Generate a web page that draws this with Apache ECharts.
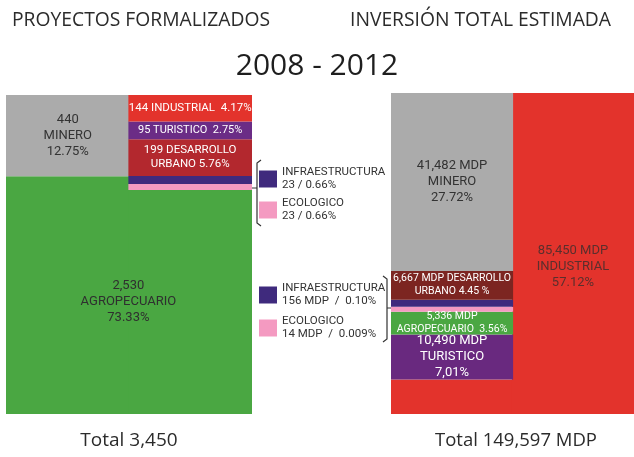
<!DOCTYPE html>
<html>
<head>
<meta charset="utf-8">
<script src="https://cdn.jsdelivr.net/npm/echarts@6/dist/echarts.min.js"></script>
<style>
html, body { margin: 0; padding: 0; background: #fff; }
#main { width: 634px; height: 457px; }
</style>
</head>
<body>
<div id="main"></div>
<script>
var FONT = "Roboto, 'Open Sans', sans-serif";
var FONT_TIT = "'Open Sans', sans-serif";

// datos 2008 - 2012
var sectores = ['INDUSTRIAL', 'TURISTICO', 'DESARROLLO URBANO', 'INFRAESTRUCTURA', 'ECOLOGICO', 'AGROPECUARIO', 'MINERO'];
var proyectos = [144, 95, 199, 23, 23, 2530, 440];
var proyectosPct = ['4.17%', '2.75%', '5.76%', '0.66%', '0.66%', '73.33%', '12.75%'];
var inversion = [85450, 10490, 6667, 156, 14, 5336, 41482];
var inversionPct = ['57.12%', '7,01%', '4.45 %', '0.10%', '0.009%', '3.56%', '27.72%'];
var titulos = ['PROYECTOS FORMALIZADOS', 'INVERSIÓN TOTAL ESTIMADA'];
var totales = ['Total 3,450', 'Total 149,597 MDP'];
var periodo = '2008 - 2012';

var grids = [
    {left: 6, top: 95, width: 246, height: 319},
    {left: 391, top: 93, width: 244, height: 321}
];

var paneles = [
    {
        valores: proyectos, pct: proyectosPct, sufijo: 'proyectos',
        colA: ['MINERO'],
        colB: ['INDUSTRIAL', 'TURISTICO', 'DESARROLLO URBANO', 'INFRAESTRUCTURA', 'ECOLOGICO'],
        span: 'AGROPECUARIO', spanLabelCol: 1, spanLabelPos: ['0%', '50%'],
        minPx: {INFRAESTRUCTURA: 8, ECOLOGICO: 6},
        colores: {
            INDUSTRIAL: '#e3332c', TURISTICO: '#6b2c86', 'DESARROLLO URBANO': '#b3282e',
            INFRAESTRUCTURA: '#3f2a7d', ECOLOGICO: '#f49ac1', AGROPECUARIO: '#4aa742', MINERO: '#ababab'
        },
        etiquetas: {
            INDUSTRIAL: ['{v} INDUSTRIAL  {p}', '#fff', 11.5],
            TURISTICO: ['{v} TURISTICO  {p}', '#fff', 11],
            'DESARROLLO URBANO': ['{v} DESARROLLO\nURBANO {p}', '#fff', 11.5],
            AGROPECUARIO: ['{v}\nAGROPECUARIO\n{p}', '#2f2f2f', 13],
            MINERO: ['{v}\nMINERO\n{p}', '#333', 13]
        },
        leyenda: {top: 166, gap: 5, fmt: '{n}\n{v} / {p}'}
    },
    {
        valores: inversion, pct: inversionPct, sufijo: 'inversión',
        colA: ['MINERO', 'DESARROLLO URBANO', 'INFRAESTRUCTURA', 'ECOLOGICO', 'AGROPECUARIO', 'TURISTICO'],
        colB: [],
        span: 'INDUSTRIAL', spanLabelCol: 1, spanLabelPos: ['50%', '54%'],
        minPx: {INFRAESTRUCTURA: 7, ECOLOGICO: 5},
        colores: {
            INDUSTRIAL: '#e3332c', TURISTICO: '#69297f', 'DESARROLLO URBANO': '#7c2521',
            INFRAESTRUCTURA: '#3f2a7d', ECOLOGICO: '#f49ac1', AGROPECUARIO: '#4aa742', MINERO: '#ababab'
        },
        etiquetas: {
            INDUSTRIAL: ['{v} MDP\nINDUSTRIAL\n{p}', '#5b2f2d', 13],
            TURISTICO: ['{v} MDP\nTURISTICO\n{p}', '#fff', 13],
            'DESARROLLO URBANO': ['{v} MDP DESARROLLO\nURBANO {p}', '#fff', 10.5],
            AGROPECUARIO: ['{v} MDP\nAGROPECUARIO  {p}', '#fff', 10.5],
            MINERO: ['{v} MDP\nMINERO\n{p}', '#333', 13]
        },
        leyenda: {top: 282, gap: 7, fmt: '{n}\n{v} MDP  /  {p}'}
    }
];

function fmtNum(n) {
    return n.toLocaleString('en-US');
}

function construir(pi) {
    var p = paneles[pi];
    var g = grids[pi];
    var total = p.valores.reduce(function (a, b) { return a + b; }, 0);
    var col = total / 2;
    // strips too thin to see get a minimum height in pixels
    var alto = function (s) {
        var v = p.valores[sectores.indexOf(s)];
        return Math.max(v, (p.minPx[s] || 0) / g.height * col);
    };
    var suma = function (lista) {
        return lista.reduce(function (a, s) { return a + alto(s); }, 0);
    };
    var texto = function (s) {
        var i = sectores.indexOf(s);
        return p.etiquetas[s][0].replace('{v}', fmtNum(p.valores[i])).replace('{p}', p.pct[i]);
    };
    function serie(s, data) {
        var e = p.etiquetas[s];
        return {
            type: 'bar',
            name: s + ' - ' + p.sufijo,
            stack: 'panel' + pi,
            xAxisIndex: pi,
            yAxisIndex: pi,
            barWidth: '101%', // slight overlap so the two halves join without a seam
            itemStyle: {color: p.colores[s]},
            label: e ? {
                show: true,
                position: 'inside',
                formatter: function () { return texto(s); },
                color: e[1],
                fontSize: e[2],
                lineHeight: Math.round(e[2] * 1.2),
                fontFamily: FONT
            } : {show: false},
            emphasis: {disabled: true},
            data: data
        };
    }
    var out = [];
    var spanData = [col - suma(p.colA), col - suma(p.colB)].map(function (v, i) {
        return {value: v, label: {show: i === p.spanLabelCol}};
    });
    var sp = serie(p.span, spanData);
    sp.label.position = p.spanLabelPos;
    sp.label.align = 'center';
    sp.label.verticalAlign = 'middle';
    out.push(sp);
    p.colA.slice().reverse().forEach(function (s) { out.push(serie(s, [alto(s), '-'])); });
    p.colB.slice().reverse().forEach(function (s) { out.push(serie(s, ['-', alto(s)])); });
    return {series: out, max: col};
}

var armados = [construir(0), construir(1)];

var chart = echarts.init(document.getElementById('main'));
var option = {
    animation: false,
    tooltip: {trigger: 'item', formatter: function (prm) {
        var partes = prm.seriesName.split(' - ');
        var pi = partes[1] === 'proyectos' ? 0 : 1;
        var i = sectores.indexOf(partes[0]);
        return partes[0] + '<br/>' + fmtNum(paneles[pi].valores[i]) + (pi ? ' MDP' : '') + ' (' + paneles[pi].pct[i] + ')';
    }},
    grid: grids.map(function (g) {
        return {left: g.left, top: g.top, width: g.width, height: g.height};
    }),
    xAxis: [0, 1].map(function (pi) {
        return {type: 'category', gridIndex: pi, data: ['A', 'B'], show: false};
    }),
    yAxis: [0, 1].map(function (pi) {
        return {type: 'value', gridIndex: pi, min: 0, max: armados[pi].max, show: false};
    }),
    legend: [0, 1].map(function (pi) {
        var p = paneles[pi];
        return {
            data: ['INFRAESTRUCTURA', 'ECOLOGICO'].map(function (s) { return s + ' - ' + p.sufijo; }),
            orient: 'vertical',
            left: 259,
            top: p.leyenda.top,
            padding: 0,
            icon: 'rect',
            itemWidth: 18,
            itemHeight: 17,
            itemGap: p.leyenda.gap,
            selectedMode: false,
            formatter: function (name) {
                var s = name.split(' - ')[0];
                var i = sectores.indexOf(s);
                return p.leyenda.fmt.replace('{n}', s).replace('{v}', fmtNum(p.valores[i])).replace('{p}', p.pct[i]);
            },
            textStyle: {fontFamily: FONT, fontSize: 11.5, lineHeight: 13, color: '#333'}
        };
    }),
    graphic: [
        {type: 'text', x: 12, y: 21, style: {text: titulos[0], font: '19.3px ' + FONT_TIT, fill: '#2b2b2b', align: 'left', verticalAlign: 'middle'}},
        {type: 'text', x: 611, y: 21, style: {text: titulos[1], font: '19.3px ' + FONT_TIT, fill: '#2b2b2b', align: 'right', verticalAlign: 'middle'}},
        {type: 'text', x: 317, y: 66, style: {text: periodo, font: '30px ' + FONT_TIT, fill: '#1e1e1e', align: 'center', verticalAlign: 'middle'}},
        {type: 'text', x: 129, y: 441, style: {text: totales[0], font: '19px ' + FONT_TIT, fill: '#2b2b2b', align: 'center', verticalAlign: 'middle'}},
        {type: 'text', x: 516, y: 441, style: {text: totales[1], font: '18.5px ' + FONT_TIT, fill: '#2b2b2b', align: 'center', verticalAlign: 'middle'}},
        {type: 'polyline', shape: {points: [[261, 160], [257, 163], [257, 223], [261, 226]]}, style: {stroke: '#333', lineWidth: 1.2, fill: null}},
        {type: 'polyline', shape: {points: [[252, 188], [257, 188]]}, style: {stroke: '#333', lineWidth: 1, fill: null}},
        {type: 'polyline', shape: {points: [[383, 276], [387, 279], [387, 339], [383, 342]]}, style: {stroke: '#333', lineWidth: 1.2, fill: null}},
        {type: 'polyline', shape: {points: [[387, 308], [391, 308]]}, style: {stroke: '#333', lineWidth: 1, fill: null}}
    ],
    series: armados[0].series.concat(armados[1].series)
};
chart.setOption(option);
</script>
</body>
</html>
